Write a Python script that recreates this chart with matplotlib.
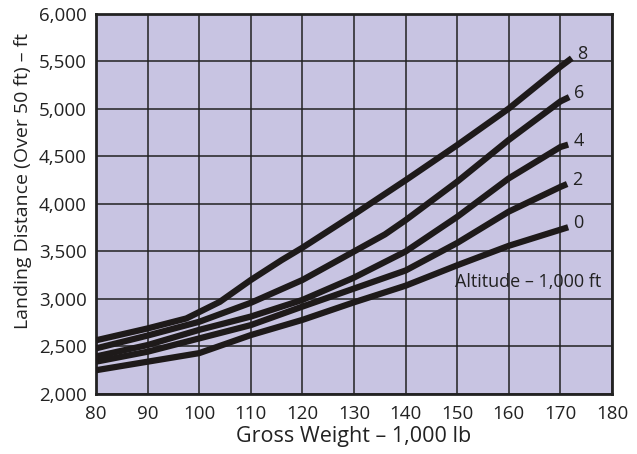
import matplotlib.pyplot as plt
from matplotlib.ticker import FuncFormatter

# altitude curves, 1,000 ft  (gross weight in 1,000 lb, landing distance in ft)
alt_labels = ["0", "2", "4", "6", "8"]

w0 = [80, 90, 100, 110, 120, 130, 140, 150, 160, 171.5]
d0 = [2250, 2340, 2430, 2620, 2780, 2965, 3140, 3355, 3560, 3755]

w2 = [80, 90, 100, 110, 120, 130, 140, 150, 160, 170, 171.3]
d2 = [2340, 2445, 2585, 2725, 2920, 3110, 3300, 3590, 3920, 4180, 4210]

w4 = [80, 90, 100, 110, 120, 130, 140, 150, 160, 170, 171.5]
d4 = [2395, 2515, 2675, 2815, 2990, 3225, 3500, 3865, 4270, 4600, 4625]

w6 = [80, 90, 100, 110, 120, 130, 136, 140, 150, 160, 170, 171.7]
d6 = [2480, 2615, 2760, 2960, 3200, 3500, 3680, 3830, 4235, 4675, 5080, 5125]

w8 = [80, 90, 97.5, 104, 110, 116, 120, 130, 140, 150, 160, 170, 172.2]
d8 = [2565, 2690, 2795, 2970, 3200, 3410, 3540, 3890, 4250, 4620, 5005, 5445, 5535]

x_ticks = list(range(80, 181, 10))
y_ticks = list(range(2000, 6001, 500))

plt.rcParams['font.family'] = ['Open Sans', 'DejaVu Sans']

fig = plt.figure(figsize=(6.37, 4.54), dpi=100)
ax = fig.add_axes([0.1507, 0.1322, 0.8101, 0.837])
ax.set_facecolor('#c8c4e2')

ax.set_xlim(80, 180)
ax.set_ylim(2000, 6000)
ax.set_xticks(x_ticks)
ax.set_yticks(y_ticks)
ax.yaxis.set_major_formatter(FuncFormatter(lambda v, p: f"{int(v):,}"))
ax.grid(True, color='#222222', linewidth=1.1)
ax.set_axisbelow(True)
ax.tick_params(length=0, labelsize=13.5, colors='#222222')
ax.tick_params(axis='x', pad=8)
ax.tick_params(axis='y', pad=6.5)

for s in ax.spines.values():
    s.set_linewidth(2)
    s.set_color('#222222')

curves = [(w0, d0), (w2, d2), (w4, d4), (w6, d6), (w8, d8)]
for (w, d), lab in zip(curves, alt_labels):
    ax.plot(w, d, color='#1e1a1a', linewidth=4.5, solid_capstyle='butt',
            solid_joinstyle='round', zorder=3)
    ax.text(w[-1] + 1.0, d[-1] + 40, lab, fontsize=13, color='#222222',
            ha='left', va='center')

ax.text(149.5, 3180, "Altitude – 1,000 ft", fontsize=13, color='#222222',
        ha='left', va='center')

ax.set_xlabel("Gross Weight – 1,000 lb", fontsize=15.5, color='#222222', labelpad=2)
ax.set_ylabel("Landing Distance (Over 50 ft) – ft", fontsize=14, color='#222222',
              va='center')
ax.yaxis.set_label_coords(-0.141, 0.56)

fig.savefig("out.png", dpi=100)
